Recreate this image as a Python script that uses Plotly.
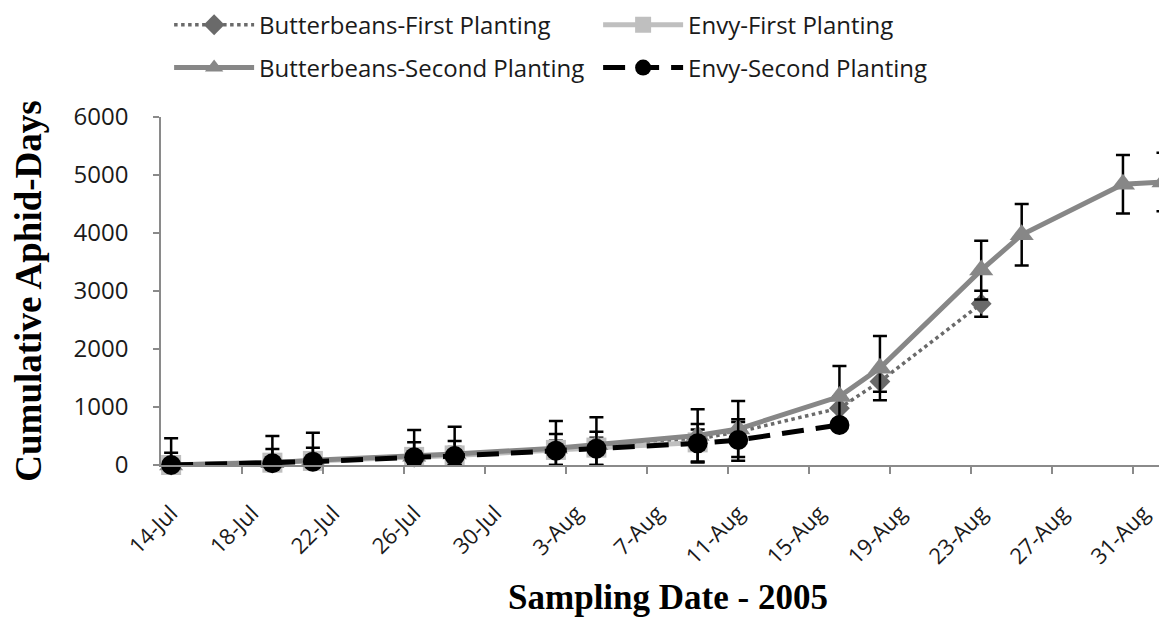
import plotly.graph_objects as go
from datetime import datetime, timedelta

# ---- data ----
sample_dates = ["2005-07-14", "2005-07-19", "2005-07-21", "2005-07-26", "2005-07-28",
                "2005-08-02", "2005-08-04", "2005-08-09", "2005-08-11", "2005-08-16",
                "2005-08-18", "2005-08-23", "2005-08-25", "2005-08-30", "2005-09-01"]

bf_dates = sample_dates[:12]
bf_values = [0, 40, 70, 140, 170, 270, 320, 450, 570, 980, 1440, 2780]
bf_err = [120, 120, 130, 130, 140, 150, 150, 160, 170, 200, 175, 225]

ef_dates = sample_dates[:8]
ef_values = [0, 40, 70, 140, 165, 260, 300, 390]

bs_dates = sample_dates
bs_values = [0, 40, 80, 150, 190, 290, 350, 510, 620, 1180, 1670, 3360, 3970, 4840, 4880]
bs_err = [460, 460, 477, 453, 470, 469, 472, 450, 483, 527, 554, 507, 530, 505, 505]

es_dates = sample_dates[:10]
es_values = [0, 30, 57, 133, 155, 247, 282, 374, 431, 690]
es_err = [212, 246, 241, 258, 259, 287, 292, 333, 357, 0]

tick_dates = ["2005-07-14", "2005-07-18", "2005-07-22", "2005-07-26", "2005-07-30",
              "2005-08-03", "2005-08-07", "2005-08-11", "2005-08-15", "2005-08-19",
              "2005-08-23", "2005-08-27", "2005-08-31"]
tick_labels = ["14-Jul", "18-Jul", "22-Jul", "26-Jul", "30-Jul", "3-Aug", "7-Aug",
               "11-Aug", "15-Aug", "19-Aug", "23-Aug", "27-Aug", "31-Aug"]

# tick marks sit between day categories (Excel style)
minor_ticks = [(datetime.fromisoformat(d) + timedelta(hours=84)).isoformat()
               for d in tick_dates[:-1]]


def minus(vals, errs):
    return [min(v, e) for v, e in zip(vals, errs)]


fig = go.Figure()

fig.add_trace(go.Scatter(
    x=bf_dates, y=bf_values, name="Butterbeans-First Planting", mode="lines+markers",
    line=dict(color="#6a6a6a", width=3.5, dash="dot"),
    marker=dict(symbol="diamond", size=16, color="#6a6a6a"),
    error_y=dict(type="data", array=bf_err, arrayminus=minus(bf_values, bf_err),
                 color="black", thickness=2.5, width=7),
    legend="legend", cliponaxis=False))

fig.add_trace(go.Scatter(
    x=ef_dates, y=ef_values, name="Envy-First Planting", mode="lines+markers",
    line=dict(color="#bfbfbf", width=5),
    marker=dict(symbol="square", size=20, color="#bfbfbf"),
    legend="legend", cliponaxis=False))

fig.add_trace(go.Scatter(
    x=bs_dates, y=bs_values, name="Butterbeans-Second Planting", mode="lines+markers",
    line=dict(color="#878787", width=5),
    marker=dict(symbol="triangle-up", size=21, color="#878787"),
    error_y=dict(type="data", array=bs_err, arrayminus=minus(bs_values, bs_err),
                 color="black", thickness=2.5, width=7),
    legend="legend2", cliponaxis=False))

fig.add_trace(go.Scatter(
    x=es_dates, y=es_values, name="Envy-Second Planting", mode="lines+markers",
    line=dict(color="black", width=5, dash="22px,12px"),
    marker=dict(symbol="circle", size=20, color="black"),
    error_y=dict(type="data", array=es_err, arrayminus=minus(es_values, es_err),
                 color="black", thickness=2.5, width=7),
    legend="legend2", cliponaxis=False))

axis_gray = "#8a8a8a"
legend_font = dict(family="Open Sans", size=24, color="#1a1a1a")

fig.update_layout(
    width=1167, height=617,
    margin=dict(l=153, r=0, t=109, b=160, autoexpand=False),
    paper_bgcolor="white", plot_bgcolor="white",
    showlegend=True,
    legend=dict(orientation="h", x=0.008, y=1.264, xanchor="left", yanchor="middle",
                font=legend_font, itemwidth=80, entrywidth=334,
                bgcolor="rgba(0,0,0,0)", borderwidth=0),
    legend2=dict(orientation="h", x=0.008, y=1.141, xanchor="left", yanchor="middle",
                 font=legend_font, itemwidth=80, entrywidth=334,
                 bgcolor="rgba(0,0,0,0)", borderwidth=0),
    xaxis=dict(
        type="date",
        range=["2005-07-13 12:00", "2005-09-01 13:40"],
        tickmode="array", tickvals=tick_dates, ticktext=tick_labels,
        tickangle=-45, ticks="", ticklabelstandoff=25,
        tickfont=dict(family="Open Sans", size=22, color="#1a1a1a"),
        showline=True, linecolor=axis_gray, linewidth=1.5,
        showgrid=False, zeroline=False,
        minor=dict(tickmode="array", tickvals=minor_ticks, ticks="outside",
                   ticklen=7, tickcolor=axis_gray, tickwidth=1.5, showgrid=False),
        title=dict(text="<b>Sampling Date - 2005</b>", standoff=16,
                   font=dict(family="Liberation Serif", size=35, color="black")),
    ),
    yaxis=dict(
        range=[0, 6000], tickmode="linear", tick0=0, dtick=1000,
        ticks="outside", ticklen=6, tickcolor=axis_gray, tickwidth=1.5,
        ticklabelstandoff=20,
        tickfont=dict(family="Open Sans", size=24, color="#1a1a1a"),
        showline=True, linecolor=axis_gray, linewidth=1.5,
        showgrid=False, zeroline=False,
        title=dict(text="<b>Cumulative Aphid-Days</b>", standoff=27,
                   font=dict(family="Liberation Serif", size=37, color="black")),
    ),
)

fig.write_html("out.html")
